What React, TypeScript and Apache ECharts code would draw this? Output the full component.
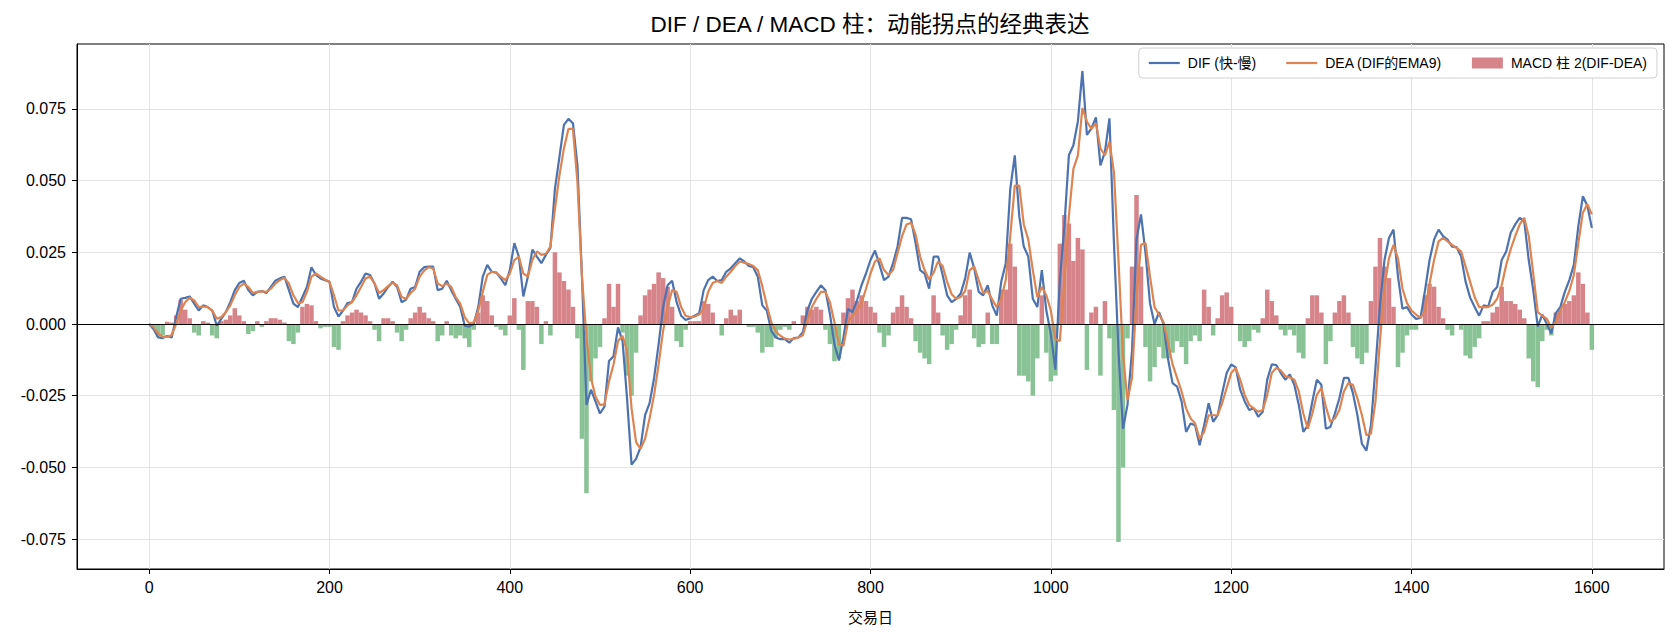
import React, { useEffect, useRef } from "react";
import * as echarts from "echarts";

// Values sampled every 5 trading days (0, 5, 10, ..., 1600)
const STEP_DAYS = 5;

const dif = [
  0, -0.0018, -0.0047, -0.0049, -0.0042, -0.0047, 0.0024, 0.0088, 0.0091, 0.0096, 0.0071, 0.0047, 0.0065, 0.0059, 0.0047, -0.0006, 0.0018, 0.0041, 0.0076, 0.0118,
  0.0143, 0.0151, 0.0118, 0.0100, 0.0112, 0.0115, 0.0108, 0.0129, 0.0151, 0.0159, 0.0165, 0.0118, 0.0071, 0.0059, 0.0094, 0.0129, 0.0198, 0.0171, 0.0159, 0.0153,
  0.0147, 0.0059, 0.0026, 0.0047, 0.0073, 0.0076, 0.0123, 0.0147, 0.0176, 0.0171, 0.0141, 0.0088, 0.0106, 0.0129, 0.0147, 0.0129, 0.0076, 0.0085, 0.0123, 0.0129,
  0.0182, 0.0198, 0.0200, 0.0200, 0.0118, 0.0123, 0.0151, 0.0118, 0.0088, 0.0059, -0.0006, -0.0009, 0.0000, 0.0059, 0.0165, 0.0206, 0.0182, 0.0179, 0.0159, 0.0135,
  0.0188, 0.0282, 0.0235, 0.0096, 0.0165, 0.0259, 0.0235, 0.0212, 0.0241, 0.0265, 0.0470, 0.0582, 0.0694, 0.0715, 0.0700, 0.0553, 0.0165, -0.0282, -0.0229, -0.0270,
  -0.0312, -0.0288, -0.0129, -0.0112, -0.0012, -0.0059, -0.0259, -0.0490, -0.0470, -0.0429, -0.0318, -0.0276, -0.0188, -0.0071, 0.0059, 0.0135, 0.0151, 0.0076, 0.0029, 0.0014,
  0.0020, 0.0029, 0.0038, 0.0118, 0.0153, 0.0165, 0.0150, 0.0153, 0.0182, 0.0194, 0.0212, 0.0229, 0.0218, 0.0202, 0.0198, 0.0165, 0.0065, 0.0047, -0.0024, -0.0047,
  -0.0053, -0.0053, -0.0065, -0.0049, -0.0047, -0.0029, 0.0047, 0.0088, 0.0112, 0.0135, 0.0118, 0.0035, -0.0071, -0.0127, -0.0047, 0.0053, 0.0041, 0.0082, 0.0135, 0.0176,
  0.0223, 0.0256, 0.0206, 0.0153, 0.0165, 0.0212, 0.0270, 0.0370, 0.0370, 0.0365, 0.0282, 0.0188, 0.0176, 0.0123, 0.0235, 0.0235, 0.0171, 0.0100, 0.0076, 0.0088,
  0.0106, 0.0159, 0.0249, 0.0194, 0.0112, 0.0100, 0.0135, 0.0065, 0.0029, 0.0147, 0.0212, 0.0470, 0.0588, 0.0376, 0.0270, 0.0235, 0.0088, 0.0059, 0.0188, 0.0047,
  -0.0035, -0.0159, 0.0153, 0.0341, 0.0588, 0.0623, 0.0706, 0.0882, 0.0659, 0.0682, 0.0720, 0.0553, 0.0600, 0.0717, 0.0282, -0.0094, -0.0365, -0.0282, -0.0094, 0.0294,
  0.0382, 0.0247, 0.0071, 0.0000, 0.0041, 0.0000, -0.0123, -0.0206, -0.0218, -0.0270, -0.0376, -0.0347, -0.0353, -0.0423, -0.0353, -0.0276, -0.0341, -0.0318, -0.0241, -0.0171,
  -0.0141, -0.0151, -0.0229, -0.0270, -0.0300, -0.0294, -0.0323, -0.0306, -0.0194, -0.0141, -0.0143, -0.0171, -0.0194, -0.0176, -0.0212, -0.0282, -0.0376, -0.0353, -0.0270, -0.0194,
  -0.0212, -0.0365, -0.0359, -0.0312, -0.0259, -0.0188, -0.0188, -0.0241, -0.0318, -0.0418, -0.0441, -0.0353, -0.0153, 0.0065, 0.0223, 0.0300, 0.0329, 0.0165, 0.0053, 0.0059,
  0.0033, 0.0018, 0.0021, 0.0118, 0.0223, 0.0294, 0.0329, 0.0306, 0.0294, 0.0270, 0.0268, 0.0235, 0.0147, 0.0092, 0.0059, 0.0029, 0.0065, 0.0061, 0.0112, 0.0129,
  0.0223, 0.0253, 0.0318, 0.0347, 0.0370, 0.0359, 0.0223, 0.0118, -0.0009, 0.0033, 0.0000, -0.0033, 0.0038, 0.0059, 0.0112, 0.0153, 0.0206, 0.0341, 0.0445, 0.0412,
  0.0335,
];

const dea = [
  0, -0.0012, -0.0033, -0.0045, -0.0045, -0.0038, 0.0000, 0.0047, 0.0076, 0.0092, 0.0082, 0.0059, 0.0061, 0.0059, 0.0047, 0.0018, 0.0024, 0.0041, 0.0065, 0.0100,
  0.0129, 0.0141, 0.0129, 0.0108, 0.0112, 0.0114, 0.0112, 0.0123, 0.0141, 0.0153, 0.0161, 0.0141, 0.0100, 0.0073, 0.0076, 0.0112, 0.0165, 0.0176, 0.0165, 0.0155,
  0.0147, 0.0100, 0.0047, 0.0047, 0.0065, 0.0076, 0.0100, 0.0129, 0.0159, 0.0165, 0.0141, 0.0108, 0.0118, 0.0132, 0.0144, 0.0135, 0.0094, 0.0088, 0.0108, 0.0123,
  0.0165, 0.0186, 0.0198, 0.0194, 0.0141, 0.0132, 0.0141, 0.0129, 0.0094, 0.0071, 0.0024, 0.0002, 0.0006, 0.0047, 0.0112, 0.0171, 0.0182, 0.0179, 0.0165, 0.0153,
  0.0176, 0.0223, 0.0235, 0.0176, 0.0165, 0.0223, 0.0253, 0.0241, 0.0245, 0.0270, 0.0400, 0.0517, 0.0612, 0.0680, 0.0680, 0.0494, 0.0165, -0.0047, -0.0188, -0.0253,
  -0.0282, -0.0280, -0.0200, -0.0141, -0.0059, -0.0041, -0.0094, -0.0294, -0.0412, -0.0435, -0.0400, -0.0329, -0.0247, -0.0141, -0.0024, 0.0059, 0.0118, 0.0112, 0.0059, 0.0029,
  0.0024, 0.0026, 0.0033, 0.0053, 0.0112, 0.0143, 0.0150, 0.0143, 0.0165, 0.0182, 0.0202, 0.0218, 0.0214, 0.0209, 0.0202, 0.0188, 0.0132, 0.0065, 0.0006, -0.0026,
  -0.0041, -0.0051, -0.0054, -0.0052, -0.0047, -0.0039, 0.0012, 0.0059, 0.0088, 0.0112, 0.0112, 0.0076, 0.0006, -0.0071, -0.0076, 0.0006, 0.0029, 0.0047, 0.0071, 0.0123,
  0.0176, 0.0218, 0.0229, 0.0188, 0.0171, 0.0188, 0.0247, 0.0306, 0.0347, 0.0353, 0.0312, 0.0235, 0.0188, 0.0155, 0.0179, 0.0218, 0.0202, 0.0147, 0.0104, 0.0088,
  0.0094, 0.0115, 0.0188, 0.0200, 0.0153, 0.0108, 0.0115, 0.0085, 0.0059, 0.0088, 0.0153, 0.0306, 0.0482, 0.0482, 0.0347, 0.0294, 0.0188, 0.0094, 0.0129, 0.0100,
  0.0047, -0.0053, -0.0059, 0.0141, 0.0376, 0.0541, 0.0588, 0.0753, 0.0706, 0.0680, 0.0700, 0.0612, 0.0588, 0.0635, 0.0529, 0.0223, -0.0106, -0.0265, -0.0188, 0.0094,
  0.0276, 0.0282, 0.0165, 0.0059, 0.0033, 0.0006, -0.0065, -0.0141, -0.0188, -0.0235, -0.0294, -0.0329, -0.0347, -0.0400, -0.0376, -0.0318, -0.0318, -0.0318, -0.0276, -0.0223,
  -0.0171, -0.0153, -0.0194, -0.0247, -0.0282, -0.0294, -0.0306, -0.0300, -0.0247, -0.0171, -0.0153, -0.0162, -0.0182, -0.0186, -0.0194, -0.0235, -0.0312, -0.0365, -0.0312, -0.0247,
  -0.0223, -0.0288, -0.0341, -0.0329, -0.0300, -0.0235, -0.0206, -0.0212, -0.0259, -0.0318, -0.0388, -0.0382, -0.0270, -0.0059, 0.0129, 0.0229, 0.0276, 0.0229, 0.0123, 0.0073,
  0.0047, 0.0033, 0.0021, 0.0047, 0.0141, 0.0223, 0.0288, 0.0300, 0.0288, 0.0276, 0.0265, 0.0253, 0.0200, 0.0147, 0.0094, 0.0059, 0.0059, 0.0059, 0.0067, 0.0088,
  0.0135, 0.0206, 0.0261, 0.0306, 0.0347, 0.0370, 0.0306, 0.0176, 0.0041, 0.0029, 0.0018, -0.0012, 0.0006, 0.0047, 0.0076, 0.0115, 0.0171, 0.0282, 0.0388, 0.0418,
  0.0382,
];

const macd = [
  0, -0.0015, -0.0045, -0.0040, 0.0008, 0.0005, 0.0030, 0.0085, 0.0050, 0.0020, -0.0030, -0.0040, 0.0010, 0.0005, -0.0040, -0.0050, 0.0010, 0.0015, 0.0030, 0.0055,
  0.0030, 0.0010, -0.0035, -0.0025, 0.0010, -0.0010, 0.0010, 0.0020, 0.0020, 0.0015, 0.0005, -0.0060, -0.0070, -0.0030, 0.0060, 0.0070, 0.0065, 0.0010, -0.0015, -0.0010,
  -0.0010, -0.0080, -0.0090, 0.0010, 0.0030, 0.0040, 0.0050, 0.0040, 0.0030, 0.0010, -0.0020, -0.0060, 0.0020, 0.0020, 0.0010, -0.0030, -0.0060, -0.0020, 0.0020, 0.0040,
  0.0060, 0.0040, 0.0020, 0.0010, -0.0060, -0.0040, 0.0010, -0.0040, -0.0050, -0.0040, -0.0050, -0.0080, -0.0020, 0.0040, 0.0100, 0.0080, 0.0030, -0.0010, -0.0020, -0.0040,
  0.0030, 0.0090, -0.0020, -0.0160, 0.0080, 0.0080, 0.0060, -0.0070, 0.0010, -0.0040, 0.0250, 0.0180, 0.0150, 0.0120, 0.0060, -0.0050, -0.0400, -0.0590, -0.0200, -0.0120,
  -0.0080, 0.0020, 0.0140, 0.0060, 0.0140, -0.0030, -0.0180, -0.0250, -0.0100, 0.0030, 0.0100, 0.0120, 0.0140, 0.0180, 0.0160, 0.0130, 0.0060, -0.0060, -0.0080, -0.0020,
  0.0010, 0.0010, 0.0010, 0.0080, 0.0070, 0.0040, 0.0000, -0.0040, 0.0020, 0.0050, 0.0030, 0.0050, 0.0000, -0.0010, -0.0010, -0.0030, -0.0100, -0.0080, -0.0080, -0.0050,
  -0.0020, -0.0010, -0.0020, 0.0010, 0.0000, 0.0030, 0.0060, 0.0050, 0.0060, 0.0050, -0.0020, -0.0070, -0.0130, -0.0120, 0.0040, 0.0090, 0.0120, 0.0080, 0.0100, 0.0080,
  0.0060, 0.0040, -0.0030, -0.0080, -0.0040, 0.0040, 0.0060, 0.0100, 0.0060, 0.0020, -0.0060, -0.0100, -0.0120, -0.0140, 0.0100, 0.0040, -0.0040, -0.0090, -0.0070, -0.0020,
  0.0030, 0.0100, 0.0120, -0.0050, -0.0080, -0.0070, 0.0040, -0.0070, -0.0070, 0.0120, 0.0120, 0.0280, 0.0200, -0.0180, -0.0180, -0.0200, -0.0250, -0.0120, 0.0100, -0.0100,
  -0.0200, -0.0180, 0.0280, 0.0380, 0.0350, 0.0220, 0.0300, 0.0260, -0.0160, 0.0040, 0.0060, -0.0180, 0.0080, -0.0050, -0.0300, -0.0760, -0.0500, -0.0050, 0.0200, 0.0450,
  0.0200, -0.0080, -0.0200, -0.0150, -0.0080, -0.0120, -0.0120, -0.0100, -0.0060, -0.0080, -0.0140, -0.0060, -0.0040, -0.0060, 0.0120, 0.0060, -0.0040, 0.0020, 0.0100, 0.0110,
  0.0060, 0.0000, -0.0060, -0.0080, -0.0060, -0.0020, -0.0030, 0.0020, 0.0120, 0.0080, 0.0030, -0.0020, -0.0040, -0.0020, -0.0040, -0.0100, -0.0120, 0.0020, 0.0100, 0.0100,
  0.0040, -0.0140, -0.0060, 0.0040, 0.0080, 0.0100, 0.0040, -0.0080, -0.0120, -0.0140, -0.0100, 0.0080, 0.0200, 0.0300, 0.0200, 0.0160, 0.0060, -0.0150, -0.0100, -0.0040,
  -0.0020, -0.0020, 0.0000, 0.0100, 0.0140, 0.0130, 0.0060, 0.0020, -0.0020, -0.0040, 0.0000, -0.0020, -0.0110, -0.0120, -0.0080, -0.0050, 0.0010, 0.0010, 0.0040, 0.0060,
  0.0130, 0.0080, 0.0080, 0.0070, 0.0050, 0.0020, -0.0120, -0.0200, -0.0220, -0.0060, -0.0020, -0.0040, 0.0040, 0.0050, 0.0070, 0.0080, 0.0100, 0.0180, 0.0140, 0.0040,
  -0.0090,
];

const xTicks = [0, 200, 400, 600, 800, 1000, 1200, 1400, 1600];
const yTicks = [-0.075, -0.05, -0.025, 0, 0.025, 0.05, 0.075];

const TITLE = "DIF / DEA / MACD 柱：动能拐点的经典表达";
const X_NAME = "交易日";
const NAME_DIF = "DIF (快-慢)";
const NAME_DEA = "DEA (DIF的EMA9)";
const NAME_MACD = "MACD 柱 2(DIF-DEA)";

const BLUE = "#4C72B0";
const ORANGE = "#DD8452";
const RED = "#d6848a";
const GREEN = "#88c295";
const FONT = "'Liberation Sans', Arial, 'Noto Sans CJK SC', sans-serif";
const LINE_ICON = "path://M0,0 L31,0 L31,2.2 L0,2.2 Z";

export default function App() {
  const ref = useRef<HTMLDivElement>(null);

  useEffect(() => {
    if (!ref.current) return;
    const chart = echarts.init(ref.current, null, { renderer: "svg" });
    const days = dif.map((_, i) => i * STEP_DAYS);
    const difData = days.map((d, i) => [d, dif[i]]);
    const deaData = days.map((d, i) => [d, dea[i]]);
    const macdData = days.map((d, i) => [d, macd[i]]);

    chart.setOption({
      animation: false,
      backgroundColor: "#ffffff",
      textStyle: { fontFamily: FONT },
      graphic: [
        {
          type: "text",
          x: 870,
          y: 24,
          style: {
            text: TITLE,
            fontSize: 22.5,
            fontFamily: FONT,
            fill: "#000",
            textAlign: "center",
            textVerticalAlign: "middle",
          },
        },
      ],
      legend: {
        right: 20,
        top: 48,
        orient: "horizontal",
        itemWidth: 31,
        itemHeight: 11,
        itemGap: 30,
        padding: [8, 10, 8, 10],
        backgroundColor: "#ffffff",
        borderColor: "#d0d0d0",
        borderWidth: 1,
        borderRadius: 4,
        textStyle: { fontSize: 14, color: "#000", fontFamily: FONT, padding: [0, 0, 0, 3] },
        data: [
          { name: NAME_DIF, icon: LINE_ICON, itemStyle: { color: BLUE } },
          { name: NAME_DEA, icon: LINE_ICON, itemStyle: { color: ORANGE } },
          { name: NAME_MACD, icon: "rect", itemStyle: { color: RED } },
        ],
      },
      grid: {
        left: 77,
        right: 13,
        top: 44,
        bottom: 68,
        show: true,
        borderColor: "#000",
        borderWidth: 1,
        backgroundColor: "transparent",
      },
      xAxis: {
        type: "value",
        min: -80,
        max: 1680,
        axisLine: { onZero: false, lineStyle: { color: "#000", width: 1 } },
        axisTick: { show: true, length: 5, customValues: xTicks, lineStyle: { color: "#000" } },
        axisLabel: {
          customValues: xTicks,
          color: "#000",
          fontSize: 16,
          margin: 10,
          fontFamily: FONT,
          formatter: (v: number) => String(v),
        },
        splitLine: { show: true, lineStyle: { color: "#e3e3e3", width: 1 } },
        name: X_NAME,
        nameLocation: "middle",
        nameGap: 41,
        nameTextStyle: { color: "#000", fontSize: 15, fontFamily: FONT },
      },
      yAxis: {
        type: "value",
        min: -0.0854,
        max: 0.0976,
        axisLine: { show: true, onZero: false, lineStyle: { color: "#000", width: 1 } },
        axisTick: { show: true, length: 5, customValues: yTicks, lineStyle: { color: "#000" } },
        axisLabel: {
          customValues: yTicks,
          color: "#000",
          fontSize: 16,
          margin: 11,
          fontFamily: FONT,
          formatter: (v: number) => v.toFixed(3),
        },
        splitLine: { show: true, lineStyle: { color: "#e3e3e3", width: 1 } },
      },
      series: [
        {
          name: NAME_MACD,
          type: "bar",
          data: macdData,
          barCategoryGap: "0%",
          itemStyle: {
            color: (p: any) => (p.value[1] >= 0 ? RED : GREEN),
            borderWidth: 0,
          },
          markLine: {
            silent: true,
            symbol: ["none", "none"],
            label: { show: false },
            lineStyle: { color: "#000", width: 1.2, type: "solid" },
            data: [{ yAxis: 0 }],
          },
          z: 2,
        },
        {
          name: NAME_DIF,
          type: "line",
          data: difData,
          symbol: "none",
          showSymbol: false,
          color: BLUE,
          lineStyle: { color: BLUE, width: 2.2 },
          z: 3,
        },
        {
          name: NAME_DEA,
          type: "line",
          data: deaData,
          symbol: "none",
          showSymbol: false,
          color: ORANGE,
          lineStyle: { color: ORANGE, width: 2.2 },
          z: 4,
        },
      ],
    });

    return () => chart.dispose();
  }, []);

  return (
    <div
      ref={ref}
      style={{ position: "absolute", left: 0, top: 0, width: 1677, height: 637 }}
    />
  );
}
